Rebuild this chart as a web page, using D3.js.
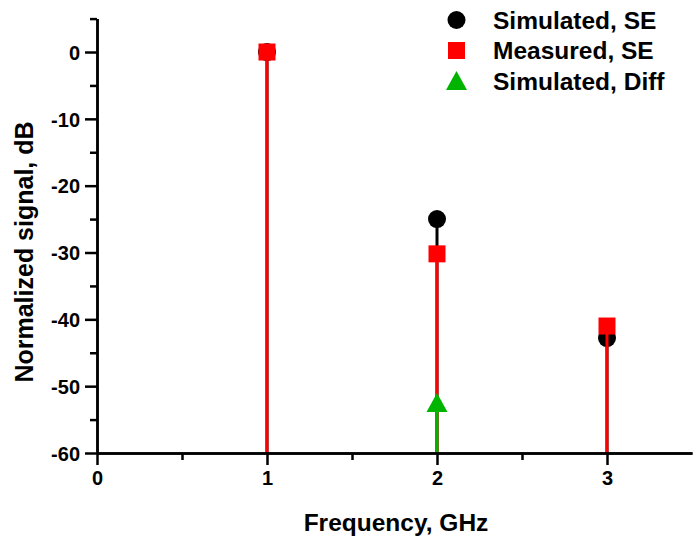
<!DOCTYPE html>
<html>
<head>
<meta charset="utf-8">
<script src="https://cdn.jsdelivr.net/npm/d3@7"></script>
<style>
 html,body{margin:0;padding:0;background:#fff;}
 svg text{font-family:"Liberation Sans",Arial,sans-serif;font-weight:bold;fill:#000;}
</style>
</head>
<body>
<div id="chart"></div>
<script>
// values
var seriesNames=["Simulated, SE","Measured, SE","Simulated, Diff"];
var simSeFreq=[1,2,3];
var simSeVal=[0,-25,-42.8];
var measSeFreq=[1,2,3];
var measSeVal=[0,-30.2,-41];
var simDiffFreq=[2];
var simDiffVal=[-52.5];
var xTicks=[0,1,2,3];
var xMinor=[0.5,1.5,2.5];
var yTicks=[0,-10,-20,-30,-40,-50,-60];
var yMinor=[5,-5,-15,-25,-35,-45,-55];

(function(){
 var W=693,H=541;
 var svg=d3.select("#chart").append("svg").attr("width",W).attr("height",H);
 var x=d3.scaleLinear().domain([0,3.5]).range([97,692]);
 var y=d3.scaleLinear().domain([-60,5]).range([453,18.6]);
 var fmt=function(d){return String(d);}; // plain hyphen minus, like the original

 var series=[
  {name:seriesNames[0],fx:simSeFreq,v:simSeVal,color:"#000000",shape:"circle"},
  {name:seriesNames[1],fx:measSeFreq,v:measSeVal,color:"#ff0000",shape:"square"},
  {name:seriesNames[2],fx:simDiffFreq,v:simDiffVal,color:"#00b400",shape:"triangle"}
 ];

 function marker(g,shape,color,cx,cy){
  if(shape=="circle") g.append("circle").attr("cx",cx).attr("cy",cy).attr("r",9).attr("fill",color);
  else if(shape=="square") g.append("rect").attr("x",cx-8.5).attr("y",cy-8.5).attr("width",17).attr("height",17).attr("fill",color);
  else g.append("path").attr("d","M"+cx+","+(cy-10)+"L"+(cx+10.5)+","+(cy+9)+"L"+(cx-10.5)+","+(cy+9)+"Z").attr("fill",color);
 }

 // stems + markers, drawn series by series
 var plot=svg.append("g");
 series.forEach(function(s){
  var g=plot.append("g");
  s.fx.forEach(function(f,i){
   g.append("line").attr("x1",x(f)).attr("x2",x(f)).attr("y1",y(-60)).attr("y2",y(s.v[i]))
    .attr("stroke",s.color).attr("stroke-width",3);
  });
  s.fx.forEach(function(f,i){ marker(g,s.shape,s.color,x(f),y(s.v[i])); });
 });

 // axes
 var xAx=svg.append("g").attr("transform","translate(0,"+y(-60)+")")
  .call(d3.axisBottom(x).tickValues(xTicks).tickSize(12).tickSizeOuter(0).tickPadding(6).tickFormat(fmt));
 svg.append("g").attr("transform","translate(0,"+y(-60)+")")
  .call(d3.axisBottom(x).tickValues(xMinor).tickSize(7).tickSizeOuter(0).tickFormat(""));
 var yAx=svg.append("g").attr("transform","translate("+x(0)+",0)")
  .call(d3.axisLeft(y).tickValues(yTicks).tickSize(12).tickSizeOuter(0).tickPadding(5).tickFormat(fmt));
 svg.append("g").attr("transform","translate("+x(0)+",0)")
  .call(d3.axisLeft(y).tickValues(yMinor).tickSize(7).tickSizeOuter(0).tickFormat(""));
 svg.selectAll(".domain").attr("stroke","#000").attr("stroke-width",2.5);
 svg.selectAll(".tick line").attr("stroke","#000").attr("stroke-width",2.5);
 svg.selectAll(".tick text").attr("font-size",20).attr("font-family","Liberation Sans, Arial, sans-serif").attr("font-weight","bold").attr("fill","#000");
 yAx.selectAll(".tick text").attr("dy","0.36em");

 // axis titles
 svg.append("text").attr("x",396).attr("y",531).attr("text-anchor","middle")
  .attr("font-size",24.5).text("Frequency, GHz");
 svg.append("text").attr("transform","translate(33,252) rotate(-90)").attr("text-anchor","middle")
  .attr("font-size",25).text("Normalized signal, dB");

 // legend
 var lg=svg.append("g");
 series.forEach(function(s,i){
  var cy=20+i*30.5;
  marker(lg,s.shape,s.color,456.5,cy);
  lg.append("text").attr("x",493).attr("y",cy+8.5).attr("font-size",24.5).text(s.name);
 });
})();
</script>
</body>
</html>
